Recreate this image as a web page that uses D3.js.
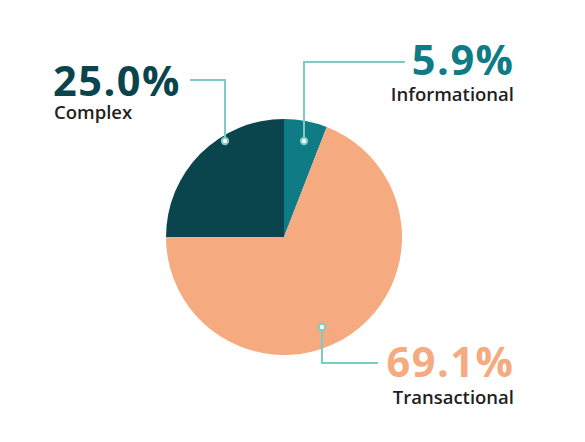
<!DOCTYPE html>
<html lang="en">
<head>
  <meta charset="utf-8" />
  <title>Request types pie</title>
  <script src="https://d3js.org/d3.v7.min.js"></script>
  <style>
    html, body {
      margin: 0;
      padding: 0;
      background: #fff;
      overflow: hidden;
    }
    svg text {
      font-family: "Open Sans", "Noto Sans", sans-serif;
    }
    .pct { font-weight: 700; font-size: 41.5px; letter-spacing: 1.5px; }
    .cat { font-weight: 600; font-size: 18.5px; }
  </style>
</head>
<body>
<script>
// data, clockwise from 12 o'clock
const categories = ["Informational", "Transactional", "Complex"];
const values = [5.9, 69.1, 25.0];
const colors = ["#0e7b85", "#f6aa80", "#0a444d"];

// annotation layout: dot on the slice, elbow of leader, label anchor
const notes = [
  { dot: [304, 141], elbow: [304, 62], end: [405, 62], anchor: "end", x: 513, y: 75, gap: 26 },
  { dot: [322, 327], elbow: [322, 363], end: [378, 363], anchor: "end", x: 513, y: 377, gap: 27 },
  { dot: [225, 141], elbow: [225, 80], end: [190, 80], anchor: "start", x: 53, y: 96, gap: 23 }
];

const width = 585, height = 442;
const cx = 284, cy = 237, radius = 118;

const svg = d3.select("body").append("svg")
  .attr("width", width)
  .attr("height", height);

const pie = d3.pie().sort(null).value(d => d);
const arc = d3.arc().innerRadius(0).outerRadius(radius);

const g = svg.append("g").attr("transform", `translate(${cx},${cy})`);
g.selectAll("path")
  .data(pie(values))
  .enter().append("path")
  .attr("d", arc)
  .attr("fill", (d, i) => colors[i]);

// leaders
const lead = svg.append("g");
lead.selectAll("polyline")
  .data(notes)
  .enter().append("polyline")
  .attr("points", d => [d.dot, d.elbow, d.end].map(p => p.join(",")).join(" "))
  .attr("fill", "none")
  .attr("stroke", "#7dcbc6")
  .attr("stroke-width", 2);
lead.selectAll("circle")
  .data(notes)
  .enter().append("circle")
  .attr("cx", d => d.dot[0])
  .attr("cy", d => d.dot[1])
  .attr("r", 3.2)
  .attr("fill", "#fff")
  .attr("stroke", "#7dcbc6")
  .attr("stroke-width", 2);

// labels (trailing letter-spacing nudged back for end-anchored text)
const lab = svg.selectAll(".lab")
  .data(notes)
  .enter().append("g")
  .attr("class", "lab");
lab.append("text")
  .attr("class", "pct")
  .attr("x", d => d.anchor === "end" ? d.x + 1.5 : d.x)
  .attr("y", d => d.y)
  .attr("text-anchor", d => d.anchor)
  .attr("fill", (d, i) => colors[i])
  .text((d, i) => values[i].toFixed(1) + "%");
lab.append("text")
  .attr("class", "cat")
  .attr("x", d => d.x + 1)
  .attr("y", d => d.y + d.gap)
  .attr("text-anchor", d => d.anchor)
  .attr("fill", "#231f20")
  .text((d, i) => categories[i]);
</script>
</body>
</html>
